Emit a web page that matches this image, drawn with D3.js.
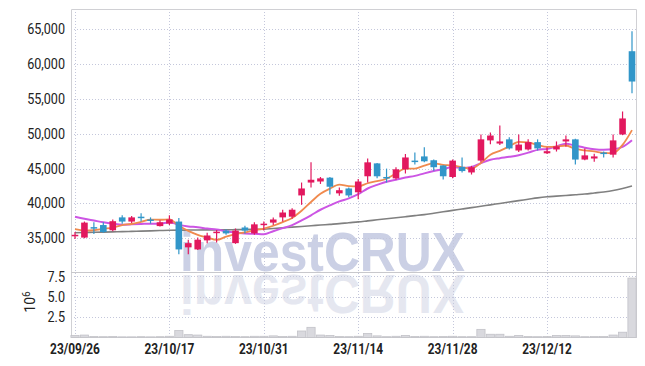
<!DOCTYPE html>
<html><head><meta charset="utf-8">
<script src="https://cdn.jsdelivr.net/npm/d3@7/dist/d3.min.js"></script>
<style>body{margin:0;background:#fff}svg{display:block}</style>
</head><body>
<svg id="c" width="645" height="366"></svg>
<script>
const dates = ["23/09/26","23/09/27","23/10/04","23/10/05","23/10/06","23/10/10","23/10/11","23/10/12","23/10/13","23/10/16",
"23/10/17","23/10/18","23/10/19","23/10/20","23/10/23","23/10/24","23/10/25","23/10/26","23/10/27","23/10/30",
"23/10/31","23/11/01","23/11/02","23/11/03","23/11/06","23/11/07","23/11/08","23/11/09","23/11/10","23/11/13",
"23/11/14","23/11/15","23/11/16","23/11/17","23/11/20","23/11/21","23/11/22","23/11/23","23/11/24","23/11/27",
"23/11/28","23/11/29","23/11/30","23/12/01","23/12/04","23/12/05","23/12/06","23/12/07","23/12/08","23/12/11",
"23/12/12","23/12/13","23/12/14","23/12/15","23/12/18","23/12/19","23/12/20","23/12/21","23/12/22","23/12/26"];
const open  = [35300,35100,36600,36900,36150,38000,37400,38100,37700,36750,37100,37400,33700,33400,34700,35800,36100,34300,36550,35700,
36900,37250,38000,38100,41150,43000,43150,43700,41450,42150,41600,43900,45750,43800,43600,44900,46150,46750,46200,45450,
43800,45250,44450,46150,49050,48600,49200,47600,47750,48800,47200,47750,48900,49200,46300,46450,47300,47000,49900,61850];
const high  = [35900,37400,37300,37300,37700,38300,38200,38600,38000,37600,38300,37900,34800,35100,35800,36200,36300,36400,36800,37300,
37400,38000,39100,39300,43000,45900,43800,43800,42300,42300,43500,46450,45800,45000,45200,47100,47300,48050,46300,45500,
46300,46600,45400,49900,50200,51200,49500,49900,49200,49200,48050,48900,49750,49300,47900,47150,47450,49900,53200,64700];
const low   = [34900,35000,35600,35800,36000,37100,37200,37400,37100,36700,36900,32700,32700,33300,34300,34400,35500,34200,35700,35500,
36100,36900,37400,37800,39800,42300,42800,41300,41100,40900,40600,43000,43600,43000,43400,44300,45600,45900,44700,43450,
43600,44450,44150,45900,48500,48400,47750,47400,47600,47600,47100,47450,48150,45600,46200,46000,46600,46600,49800,55800];
const close = [35500,37250,36500,35900,37450,37400,38000,38000,37600,37300,37700,33400,34300,34800,35400,35950,35700,36100,36100,37000,
37100,37700,38700,39100,42150,43400,43600,42400,41900,41150,43150,45900,43900,43650,44900,46600,46000,46050,45200,43900,
46150,44650,45200,49200,49750,48900,47900,48450,48800,47900,47500,48200,49200,46300,46900,46750,47150,49050,52200,57500];
// volume in millions of shares
const volume = [0.25,0.3,0.12,0.1,0.12,0.08,0.08,0.1,0.08,0.1,0.15,0.85,0.35,0.3,0.15,0.12,0.15,0.12,0.1,0.15,
0.15,0.2,0.12,0.15,0.8,1.25,0.3,0.25,0.12,0.1,0.15,0.5,0.2,0.1,0.15,0.25,0.12,0.15,0.1,0.12,
0.15,0.1,0.1,1.0,0.4,0.4,0.15,0.25,0.12,0.1,0.12,0.25,0.25,0.2,0.1,0.12,0.12,0.3,0.65,7.3];
const maShort = [36300,36100,36150,36350,36520,36900,37050,37350,37690,37660,37720,36800,36060,35500,35120,34770,35230,35590,35850,36170,
36400,36800,37320,37920,38950,40210,41390,42130,42690,42490,42440,42900,43200,43550,44300,44990,45010,45440,45750,45550,
45460,45190,45020,45820,46990,47540,48190,48840,48760,48390,48110,48170,48320,47820,47620,47470,47260,47230,48410,50530];
const maMid = [38100,37800,37550,37300,37100,36950,37000,37050,37100,37090,37310,36925,36705,36595,36390,36245,36015,35825,35675,35645,
35585,36015,36455,36885,37560,38305,39095,39725,40305,40720,41325,42145,42665,43120,43395,43715,43955,44320,44650,44925,
45225,45100,45230,45785,46270,46500,46690,46930,47290,47690,47825,48180,48580,48290,48005,47790,47715,47775,48115,49075];
const maLong = [35800,35830,35860,35890,35920,35950,35990,36030,36070,36110,36150,36170,36180,36190,36200,36210,36220,36240,36260,36280,
36300,36400,36500,36600,36700,36800,36900,37000,37100,37230,37350,37500,37650,37800,37950,38100,38250,38400,38600,38800,
39000,39200,39400,39600,39800,40000,40200,40400,40600,40800,40950,41050,41150,41250,41350,41500,41650,41850,42150,42500];
const priceTicks = [35000,40000,45000,50000,55000,60000,65000];
const volTicks = [2.5,5.0,7.5];
const dateTicks = ["23/09/26","23/10/17","23/10/31","23/11/14","23/11/28","23/12/12"];

const svg = d3.select("#c");
const L=71, R=636, T=9, SEP=272, B=337.5;
const FONT = "Roboto,'DejaVu Sans Condensed',sans-serif";
const UP="#e2185e", DOWN="#3196c9";

const x = d3.scalePoint().domain(dates).range([75, 632]);
const y = d3.scaleLinear().domain([30160, 67910]).range([SEP, T]);
const yv = d3.scaleLinear().domain([0, 8.05]).range([B, SEP]);
const bodyW = 6.6, volW = 8.2;

// watermark + mirrored reflection (reflection reuses the same text element)
const defs = svg.append("defs");
defs.append("text").attr("id","wmtext").attr("x",180).attr("y",271).text("investCRUX")
  .attr("font-family","'Liberation Sans',Arial,sans-serif").attr("font-weight","bold").attr("font-size",55)
  .attr("textLength",285).attr("lengthAdjust","spacingAndGlyphs");
const wm = svg.append("g");
wm.append("use").attr("href","#wmtext").attr("fill","#cbd0e5");
wm.append("use").attr("href","#wmtext").attr("transform","translate(0,546) scale(1,-1)").attr("fill","#e5e7f0");

// grid
const grid = svg.append("g").attr("stroke","#c4c7db").attr("stroke-dasharray","1,2").attr("stroke-width",1);
grid.selectAll("line.h").data(priceTicks).join("line")
  .attr("x1",L).attr("x2",R).attr("y1",d=>Math.round(y(d))+0.5).attr("y2",d=>Math.round(y(d))+0.5);
grid.selectAll("line.v").data(volTicks).join("line")
  .attr("x1",L).attr("x2",R).attr("y1",d=>Math.round(yv(d))+0.5).attr("y2",d=>Math.round(yv(d))+0.5);
grid.selectAll("line.d").data(dateTicks).join("line")
  .attr("x1",d=>Math.round(x(d))+0.5).attr("x2",d=>Math.round(x(d))+0.5).attr("y1",T).attr("y2",B);

// frame
const fr = svg.append("g").attr("stroke","#d0d0d4").attr("stroke-width",1).attr("fill","none");
fr.append("path").attr("d",`M${L+0.5},${B}V${T+0.5}H${R+0.5}V${B}`);
fr.append("line").attr("x1",L).attr("x2",R+1).attr("y1",SEP+0.5).attr("y2",SEP+0.5).attr("stroke","#c8c8cc");
fr.append("line").attr("x1",L).attr("x2",R+1).attr("y1",B).attr("y2",B);

// volume bars
svg.append("g").selectAll("rect").data(dates).join("rect")
  .attr("x",d=>x(d)-volW/2).attr("width",volW)
  .attr("y",(d,i)=>yv(volume[i])).attr("height",(d,i)=>B-yv(volume[i]))
  .attr("fill","#d9d9de").attr("stroke","#c2c2c8").attr("stroke-width",0.8);

// moving averages
const line = arr => d3.line().x((d,i)=>x(dates[i])).y(d=>y(d)).curve(d3.curveMonotoneX)(arr);
svg.append("path").attr("d",line(maLong)).attr("fill","none").attr("stroke","#808080").attr("stroke-width",1.6);
svg.append("path").attr("d",line(maMid)).attr("fill","none").attr("stroke","#cc55e4").attr("stroke-width",2);
svg.append("path").attr("d",line(maShort)).attr("fill","none").attr("stroke","#f08a4e").attr("stroke-width",1.8);

// candles
const cg = svg.append("g");
dates.forEach((d,i)=>{
  const c = close[i]>=open[i]?UP:DOWN;
  const cx = x(d);
  cg.append("line").attr("x1",cx).attr("x2",cx).attr("y1",y(high[i])).attr("y2",y(low[i]))
    .attr("stroke",c).attr("stroke-width",1.2);
  const top = y(Math.max(open[i],close[i])), bot = y(Math.min(open[i],close[i]));
  cg.append("rect").attr("x",cx-bodyW/2).attr("width",bodyW).attr("y",top).attr("height",Math.max(1.5,bot-top))
    .attr("fill",c);
});

// y axis labels (horizontally condensed)
const fmt = d3.format(",");
svg.append("g").selectAll("text").data(priceTicks).join("text")
  .attr("transform",d=>`translate(65,${y(d)}) scale(0.9,1)`).attr("dy","0.36em").attr("text-anchor","end")
  .attr("font-family",FONT).attr("font-size",14).attr("fill","#222").text(d=>fmt(d));
svg.append("g").selectAll("text").data(volTicks).join("text")
  .attr("transform",d=>`translate(65,${yv(d)}) scale(0.9,1)`).attr("dy","0.36em").attr("text-anchor","end")
  .attr("font-family",FONT).attr("font-size",14).attr("fill","#222").text(d=>d3.format(".1f")(d));
const ex = svg.append("text").attr("transform","translate(35,302) rotate(-90)").attr("text-anchor","middle")
  .attr("font-family",FONT).attr("font-size",14).attr("fill","#222");
ex.append("tspan").text("10");
ex.append("tspan").attr("dy",-5).attr("font-size",10).text("6");

// x labels
svg.append("g").selectAll("text").data(dateTicks).join("text")
  .attr("transform",d=>`translate(${x(d)},354) scale(0.85,1)`).attr("text-anchor","middle")
  .attr("font-family",FONT).attr("font-weight","bold").attr("font-size",14).attr("fill","#222").text(d=>d);
</script>
</body></html>
